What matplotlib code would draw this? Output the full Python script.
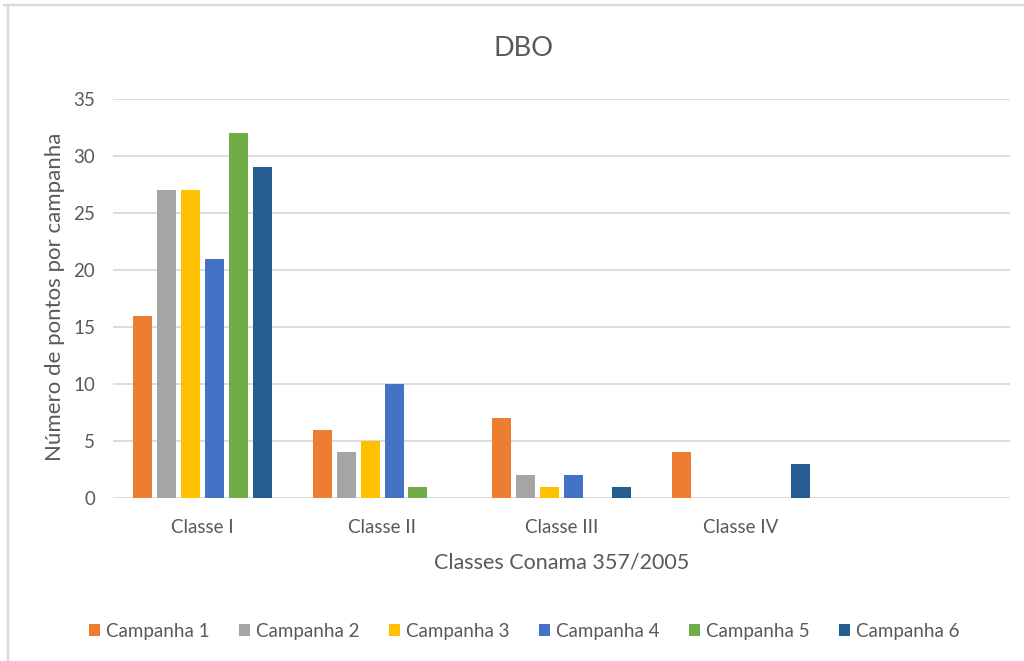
import matplotlib
matplotlib.use("Agg")
import matplotlib.pyplot as plt
from matplotlib.patches import Patch
from matplotlib.lines import Line2D
import numpy as np

# Data
categories = ["Classe I", "Classe II", "Classe III", "Classe IV", ""]
series_names = ["Campanha 1", "Campanha 2", "Campanha 3",
                "Campanha 4", "Campanha 5", "Campanha 6"]
campanha_1 = [16, 6, 7, 4, 0]
campanha_2 = [27, 4, 2, 0, 0]
campanha_3 = [27, 5, 1, 0, 0]
campanha_4 = [21, 10, 2, 0, 0]
campanha_5 = [32, 1, 0, 0, 0]
campanha_6 = [29, 0, 1, 3, 0]
y_ticks = [0, 5, 10, 15, 20, 25, 30, 35]

series_values = [campanha_1, campanha_2, campanha_3,
                 campanha_4, campanha_5, campanha_6]
colors = ["#ED7D31", "#A5A5A5", "#FFC000", "#4472C4", "#70AD47", "#255E91"]

plt.rcParams["font.family"] = ["Lato", "DejaVu Sans"]
text_color = "#595959"
grid_color = "#D9D9D9"

fig = plt.figure(figsize=(10.24, 6.61), dpi=100)
ax = fig.add_axes([113 / 1024, 1 - 498 / 661, (1010 - 113) / 1024, (498 - 99) / 661])

x = np.arange(len(categories))
step = 0.1333
width = 0.106
for i, (vals, col) in enumerate(zip(series_values, colors)):
    ax.bar(x + (i - 2.5) * step, vals, width=width, color=col, zorder=3)

ax.set_xlim(-0.5, len(categories) - 0.5)
ax.set_ylim(0, 35)
ax.set_yticks(y_ticks)
ax.set_xticks(x)
ax.set_xticklabels(categories)
ax.tick_params(axis="both", length=0, labelsize=13.5, colors=text_color)
ax.tick_params(axis="x", pad=15)
ax.tick_params(axis="y", pad=13)
ax.yaxis.grid(True, color=grid_color, linewidth=1.3, zorder=0)
ax.set_axisbelow(True)
for s in ax.spines.values():
    s.set_visible(False)

ax.set_xlabel("Classes Conama 357/2005", fontsize=15.5, color=text_color, labelpad=12)
fig.text(55 / 1024, 1 - 297 / 661, "Número de pontos por campanha", rotation=90,
         ha="center", va="center", fontsize=16, color=text_color)
fig.text(524 / 1024, 1 - 48 / 661, "DBO", ha="center", va="center",
         fontsize=19.5, color=text_color)

handles = [Patch(facecolor=c, edgecolor="none") for c in colors]
fig.legend(handles, series_names, loc="center", bbox_to_anchor=(524 / 1024, 1 - 631 / 661),
           ncol=6, frameon=False, fontsize=13.5, labelcolor=text_color,
           handlelength=0.62, handleheight=0.62, handletextpad=0.3, columnspacing=1.56)

# Chart frame edges
fig.add_artist(Line2D([4 / 1024, 1.0], [1 - 5 / 661, 1 - 5 / 661], color=grid_color,
                      linewidth=1.6, transform=fig.transFigure))
fig.add_artist(Line2D([8 / 1024, 8 / 1024], [0, 1 - 5 / 661], color=grid_color,
                      linewidth=1.6, transform=fig.transFigure))

fig.savefig("out.png", dpi=100, facecolor="white")
